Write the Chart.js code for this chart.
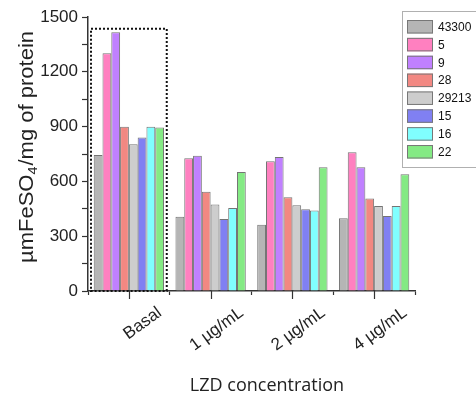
<!DOCTYPE html>
<html>
<head>
<meta charset="utf-8">
<script src="https://cdn.jsdelivr.net/npm/chart.js@4.4.1/dist/chart.umd.min.js"></script>
<style>
  html, body { margin: 0; padding: 0; background: #fff; }
  #chart { display: block; }
</style>
</head>
<body>
<canvas id="chart" width="476" height="399"></canvas>
<script>
// Chart data
const categories = ['Basal', '1 µg/mL', '2 µg/mL', '4 µg/mL'];
const seriesNames = ['43300', '5', '9', '28', '29213', '15', '16', '22'];
const s43300 = [744, 406, 363, 398];
const s5 = [1301, 727, 710, 759];
const s9 = [1416, 740, 733, 677];
const s28 = [899, 543, 513, 507];
const s29213 = [803, 474, 469, 465];
const s15 = [841, 394, 447, 410];
const s16 = [899, 454, 441, 465];
const s22 = [895, 651, 677, 639];
const seriesValues = [s43300, s5, s9, s28, s29213, s15, s16, s22];
const seriesColors = ['#b5b5b5', '#ff80c0', '#c080ff', '#f28882', '#cdcdcd', '#8080f2', '#80ffff', '#84ea84'];
const yTicks = [0, 300, 600, 900, 1200, 1500];

// Build datasets
const datasets = seriesNames.map((name, i) => ({
  label: name,
  data: seriesValues[i],
  backgroundColor: seriesColors[i],
  borderColor: 'rgba(70, 70, 70, 0.75)',
  borderWidth: 1,
  categoryPercentage: 0.86,
  barPercentage: 1.0
}));

// Extra drawing: axis titles, rotated x labels, center ticks, dotted box, legend
const decorPlugin = {
  id: 'decor',
  afterDatasetsDraw(chart) {
    const ctx = chart.ctx;
    const x = chart.scales.x;
    const y = chart.scales.y;
    const area = chart.chartArea;

    ctx.save();

    // center tick marks under each category
    ctx.strokeStyle = '#333';
    ctx.lineWidth = 1.2;
    categories.forEach((c, i) => {
      const px = Math.round(x.getPixelForTick(i)) + 0.5;
      ctx.beginPath();
      ctx.moveTo(px, area.bottom);
      ctx.lineTo(px, area.bottom + 8);
      ctx.stroke();
    });

    // dotted box around Basal group
    const cx = x.getPixelForTick(0);
    const half = (x.getPixelForTick(1) - cx) / 2;
    ctx.setLineDash([2, 2]);
    ctx.lineWidth = 2;
    ctx.strokeStyle = '#111';
    ctx.strokeRect(cx - half + 3, y.getPixelForValue(1435), 2 * half - 6, area.bottom - y.getPixelForValue(1435));
    ctx.setLineDash([]);

    // rotated category labels
    ctx.fillStyle = '#222';
    ctx.font = '17px Arial, "Liberation Sans", sans-serif';
    ctx.textAlign = 'right';
    ctx.textBaseline = 'middle';
    categories.forEach((c, i) => {
      const px = x.getPixelForTick(i);
      ctx.save();
      ctx.translate(px + 31, area.bottom + 20);
      ctx.rotate(-36 * Math.PI / 180);
      ctx.fillText(c, 0, 0);
      ctx.restore();
    });

    // x axis title
    ctx.font = '18px "Open Sans", sans-serif';
    ctx.textAlign = 'center';
    ctx.textBaseline = 'alphabetic';
    ctx.fillText('LZD concentration', 267, 391);

    // y axis title with subscript
    const mainFont = '20px Arial, "Liberation Sans", sans-serif';
    const subFont = '13px Arial, "Liberation Sans", sans-serif';
    ctx.font = mainFont;
    const w1 = ctx.measureText('µmFeSO').width;
    const w3 = ctx.measureText('/mg of protein').width;
    ctx.font = subFont;
    const w2 = ctx.measureText('4').width + 1;
    const total = w1 + w2 + w3;
    ctx.save();
    ctx.translate(33, 147);
    ctx.rotate(-Math.PI / 2);
    ctx.scale(1.1, 1);
    ctx.textAlign = 'left';
    let tx = -total / 2;
    ctx.font = mainFont;
    ctx.fillText('µmFeSO', tx, 0);
    tx += w1;
    ctx.font = subFont;
    ctx.fillText('4', tx, 4);
    tx += w2;
    ctx.font = mainFont;
    ctx.fillText('/mg of protein', tx, 0);
    ctx.restore();

    // legend box
    ctx.fillStyle = '#fff';
    ctx.fillRect(402, 11, 80, 156);
    ctx.strokeStyle = '#b0b0b0';
    ctx.lineWidth = 1;
    ctx.strokeRect(402.5, 11.5, 80, 156);
    ctx.font = '12px Arial, "Liberation Sans", sans-serif';
    ctx.textAlign = 'left';
    ctx.textBaseline = 'middle';
    chart.data.datasets.forEach((ds, i) => {
      const top = 20 + i * 17.86;
      ctx.fillStyle = ds.backgroundColor;
      ctx.fillRect(407, top, 26, 13.5);
      ctx.strokeStyle = '#777';
      ctx.strokeRect(407.5, top + 0.5, 25, 12.5);
      ctx.fillStyle = '#111';
      ctx.fillText(ds.label, 438, top + 7.5);
    });

    ctx.restore();
  }
};

const ctx = document.getElementById('chart').getContext('2d');
const chart = new Chart(ctx, {
  type: 'bar',
  data: {
    labels: categories,
    datasets: datasets
  },
  options: {
    responsive: false,
    animation: false,
    devicePixelRatio: 1,
    layout: {
      padding: { left: 0, right: 61, top: 17, bottom: 0 }
    },
    scales: {
      x: {
        offset: true,
        grid: {
          offset: true,
          drawOnChartArea: false,
          tickLength: 4,
          tickColor: '#333',
          tickWidth: 1.2
        },
        border: { color: '#333', width: 1.5 },
        ticks: { display: false },
        afterFit(scale) { scale.height = 108; }
      },
      y: {
        min: 0,
        max: 1500,
        grid: {
          drawOnChartArea: false,
          tickLength: 6,
          tickColor: '#333',
          tickWidth: 1.2
        },
        border: { color: '#333', width: 1.5 },
        ticks: {
          stepSize: 150,
          color: '#222',
          padding: 4,
          font: { family: 'Arial, "Liberation Sans", sans-serif', size: 17 },
          callback: (v) => (yTicks.includes(v) ? v : '')
        },
        afterFit(scale) { scale.width = 88; }
      }
    },
    plugins: {
      legend: { display: false },
      tooltip: { enabled: false }
    }
  },
  plugins: [decorPlugin]
});
</script>
</body>
</html>
